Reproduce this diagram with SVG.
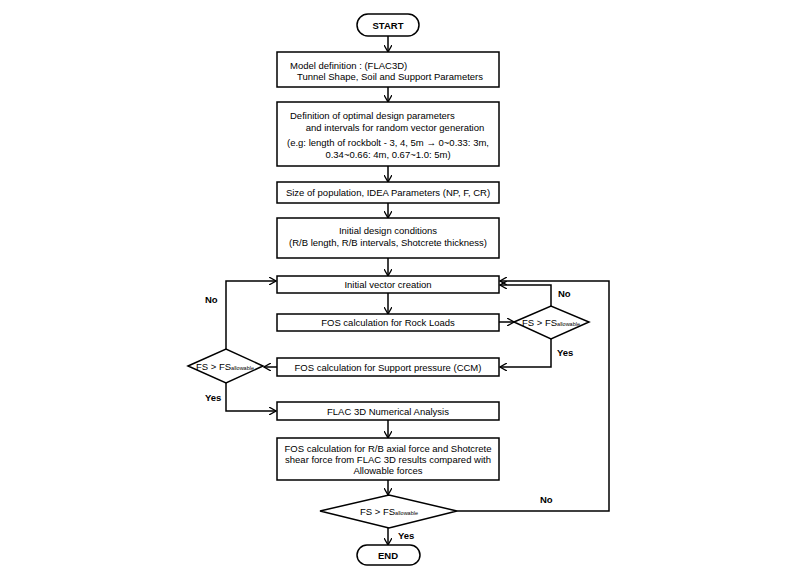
<svg xmlns="http://www.w3.org/2000/svg" width="800" height="570" viewBox="0 0 800 570">
<style>
.b{fill:#fff;stroke:#000;stroke-width:1.5}
.t{font-family:"Liberation Sans",Arial,sans-serif;font-size:9.5px;text-anchor:middle}
.l{font-family:"Liberation Sans",Arial,sans-serif;font-size:9.5px;font-weight:bold}
.c{fill:none;stroke:#000;stroke-width:1.5;marker-end:url(#a)}
</style>
<defs><marker id="a" markerWidth="8" markerHeight="8" refX="7" refY="4" orient="auto" markerUnits="userSpaceOnUse"><path d="M0,0 L7,4 L0,8" fill="none" stroke="#000" stroke-width="1.3"/></marker></defs>
<rect width="800" height="570" fill="#fff"/>
<g id="connectors">
<path class="c" d="M388,36 V52"/>
<path class="c" d="M388,87 V102"/>
<path class="c" d="M388,166 V182"/>
<path class="c" d="M388,203 V218"/>
<path class="c" d="M388,258 V276"/>
<path class="c" d="M388,293 V314"/>
<path class="c" d="M499,322 H514"/>
<path class="c" d="M551,306 V285 H500"/>
<path class="c" d="M551,339 V367 H500"/>
<path class="c" d="M277,367 H264"/>
<path class="c" d="M226,349 V281 H276"/>
<path class="c" d="M226,383 V411 H276"/>
<path class="c" d="M388,420 V438"/>
<path class="c" d="M388,480 V495"/>
<path class="c" d="M457,511 H609 V281 H500"/>
<path class="c" d="M388,528 V545"/>
</g>
<g id="start"><rect class="b" x="357" y="14" width="62" height="22" rx="11"/><text class="t" x="388" y="29" font-weight="bold">START</text></g>
<g id="model"><rect class="b" x="277" y="52" width="222" height="35"/><text class="t" x="290" y="69" style="text-anchor:start">Model definition : (FLAC3D)</text><text class="t" x="390" y="80">Tunnel Shape, Soil and Support Parameters</text></g>
<g id="def"><rect class="b" x="277" y="102" width="222" height="64"/><text class="t" x="290" y="119" style="text-anchor:start">Definition of optimal design parameters</text><text class="t" x="395" y="131">and intervals for random vector generation</text><text class="t" x="388" y="146">(e.g: length of rockbolt - 3, 4, 5m → 0~0.33: 3m,</text><text class="t" x="388" y="158">0.34~0.66: 4m, 0.67~1.0: 5m)</text></g>
<g id="pop"><rect class="b" x="277" y="182" width="222" height="21"/><text class="t" x="388" y="196">Size of population, IDEA Parameters (NP, F, CR)</text></g>
<g id="init"><rect class="b" x="277" y="218" width="222" height="40"/><text class="t" x="388" y="234">Initial design conditions</text><text class="t" x="388" y="246">(R/B length, R/B intervals, Shotcrete thickness)</text></g>
<g id="vec"><rect class="b" x="277" y="276" width="222" height="17"/><text class="t" x="388" y="288">Initial vector creation</text></g>
<g id="rock"><rect class="b" x="277" y="314" width="222" height="17"/><text class="t" x="388" y="326">FOS calculation for Rock Loads</text></g>
<g id="d1"><path class="b" d="M514,322 L551,306 L589,322 L551,339 Z"/><text class="t" x="551" y="326" font-size="8">FS &gt; FS<tspan font-size="5.5">allowable</tspan></text></g>
<g id="sup"><rect class="b" x="277" y="358" width="222" height="18"/><text class="t" x="388" y="371">FOS calculation for Support pressure (CCM)</text></g>
<g id="d2"><path class="b" d="M188,366 L226,349 L263,366 L226,383 Z"/><text class="t" x="225" y="370" font-size="8">FS &gt; FS<tspan font-size="5.5">allowable</tspan></text></g>
<g id="flac"><rect class="b" x="277" y="402" width="222" height="18"/><text class="t" x="388" y="415">FLAC 3D Numerical Analysis</text></g>
<g id="fos"><rect class="b" x="277" y="438" width="222" height="42"/><text class="t" x="388" y="452">FOS calculation for R/B axial force and Shotcrete</text><text class="t" x="388" y="463">shear force from FLAC 3D results compared with</text><text class="t" x="388" y="474">Allowable forces</text></g>
<g id="d3"><path class="b" d="M320,511 L389,495 L457,511 L389,528 Z"/><text class="t" x="389" y="515" font-size="8">FS &gt; FS<tspan font-size="5.5">allowable</tspan></text></g>
<g id="end"><rect class="b" x="357" y="545" width="63" height="20" rx="10"/><text class="t" x="388" y="559" font-weight="bold">END</text></g>
<g id="labels">
<text class="l" x="205" y="303">No</text>
<text class="l" x="205" y="401">Yes</text>
<text class="l" x="558" y="297">No</text>
<text class="l" x="557" y="356">Yes</text>
<text class="l" x="540" y="503">No</text>
<text class="l" x="398" y="539">Yes</text>
</g>
</svg>
